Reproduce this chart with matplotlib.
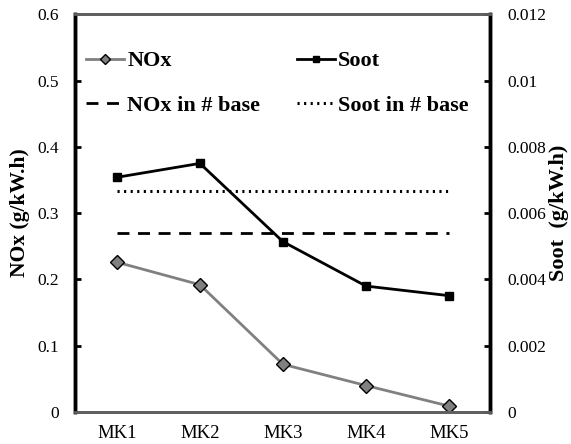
import numpy as np
import matplotlib.pyplot as plt

plt.rcParams['font.family'] = ['Liberation Serif', 'DejaVu Serif']

categories = ['MK1', 'MK2', 'MK3', 'MK4', 'MK5']
nox = [0.226, 0.192, 0.072, 0.040, 0.009]
soot = [0.00708, 0.00750, 0.00514, 0.00380, 0.00351]
nox_base = 0.27
soot_base = 0.00668

x = np.arange(len(categories))

fig = plt.figure(figsize=(5.71, 4.44), dpi=100)
ax = fig.add_axes([0.132, 0.072, 0.727, 0.896])
ax2 = ax.twinx()

ax.plot(x, nox, color='#808080', lw=2, marker='D', ms=7,
        mfc='#808080', mec='black', mew=1, label='NOx')
ax.plot(x, [nox_base] * len(x), color='black', lw=2, ls=(0, (4.3, 3.1)),
        label='NOx in # base')
ax2.plot(x, soot, color='black', lw=2, marker='s', ms=6, label='Soot')
ax2.plot(x, [soot_base] * len(x), color='black', lw=2.2, ls=(0, (0.7, 1.45)),
         label='Soot in # base')

ax.set_xlim(-0.5, 4.5)
ax.set_ylim(0, 0.6)
ax2.set_ylim(0, 0.012)
ax.set_yticks([0, 0.1, 0.2, 0.3, 0.4, 0.5, 0.6])
ax.set_yticklabels(['0', '0.1', '0.2', '0.3', '0.4', '0.5', '0.6'])
ax2.set_yticks([0, 0.002, 0.004, 0.006, 0.008, 0.01, 0.012])
ax2.set_yticklabels(['0', '0.002', '0.004', '0.006', '0.008', '0.01', '0.012'])
ax.set_xticks(x)
ax.set_xticklabels(categories, fontsize=13.5)
ax.tick_params(axis='x', length=0, pad=9)
ax.tick_params(axis='y', direction='in', length=4, width=2, labelsize=12.5, pad=12)
ax2.tick_params(axis='y', direction='in', length=4, width=2, labelsize=12.5, pad=12)

for a in (ax, ax2):
    a.spines['left'].set_linewidth(2.5)
    a.spines['right'].set_linewidth(2.5)
    a.spines['top'].set_color('#606060')
    a.spines['bottom'].set_color('#606060')
    a.spines['top'].set_linewidth(2)
    a.spines['bottom'].set_linewidth(2)

ax.set_ylabel('NOx (g/kW.h)', fontsize=15.5, fontweight='bold', labelpad=5)
ax2.set_ylabel('Soot  (g/kW.h)', fontsize=16, fontweight='bold', labelpad=2)

h1, l1 = ax.get_legend_handles_labels()
h2, l2 = ax2.get_legend_handles_labels()
handles = [h1[0], h1[1], h2[0], h2[1]]
labels = [l1[0], l1[1], l2[0], l2[1]]
leg = ax.legend(handles, labels, ncol=2, frameon=False, loc='upper left',
                bbox_to_anchor=(0.0265, 0.908), prop={'weight': 'bold', 'size': 16},
                handlelength=1.7, handletextpad=0.15, columnspacing=1.65,
                labelspacing=1.08, borderaxespad=0, borderpad=0, markerscale=0.8)

fig.savefig('out.png', dpi=100)
